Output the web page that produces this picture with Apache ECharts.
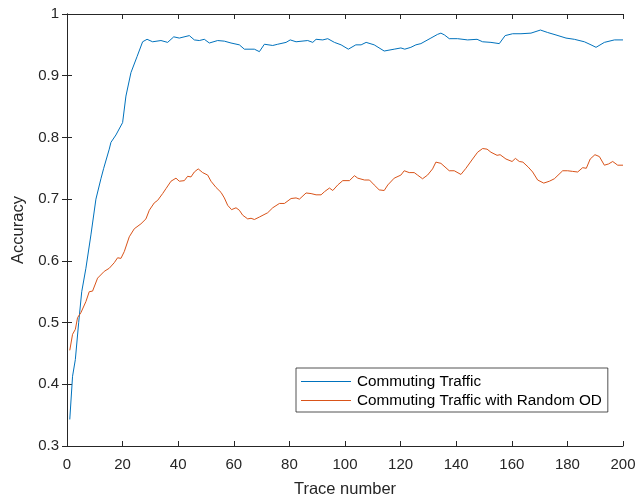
<!DOCTYPE html>
<html>
<head>
<meta charset="utf-8">
<title>Accuracy vs Trace number</title>
<script src="https://cdn.jsdelivr.net/npm/echarts@6/dist/echarts.min.js"></script>
<style>
  html, body { margin: 0; padding: 0; background: #fff; }
  #main { width: 639px; height: 497px; }
</style>
</head>
<body>
<div id="main"></div>
<script>
// values: [trace number, accuracy]
var commuting = [
  [1, 0.343], [2, 0.413], [3, 0.440], [4.2, 0.500], [5.3, 0.550], [6.8, 0.588], [8.6, 0.642],
  [10.4, 0.700], [12.2, 0.733], [13.2, 0.750], [15.2, 0.781], [15.8, 0.792], [17.6, 0.804],
  [20.0, 0.824], [21.2, 0.867], [23.0, 0.905], [25.2, 0.931], [27.2, 0.955], [28.8, 0.959],
  [30.8, 0.955], [33.8, 0.957], [36.2, 0.954], [38.4, 0.963], [40.4, 0.961], [44.0, 0.965],
  [45.8, 0.958], [47.6, 0.957], [49.4, 0.959], [51.2, 0.953], [54.2, 0.957], [56.6, 0.956],
  [59.0, 0.953], [62.0, 0.950], [63.8, 0.943], [67.4, 0.943], [69.2, 0.939], [71.0, 0.951],
  [74.0, 0.949], [75.8, 0.951], [78.8, 0.954], [80.3, 0.958], [82.4, 0.955], [86.6, 0.957],
  [88.4, 0.954], [89.6, 0.959], [92.0, 0.958], [93.8, 0.960], [96.2, 0.954], [98.6, 0.950],
  [101.2, 0.943], [103.9, 0.950], [105.8, 0.950], [107.6, 0.954], [110.5, 0.950], [114.1, 0.940],
  [117.7, 0.943], [120.1, 0.945], [121.5, 0.943], [123.7, 0.946], [125.5, 0.950], [127.3, 0.952],
  [130.9, 0.961], [133.3, 0.967], [134.5, 0.969], [135.8, 0.966], [137.5, 0.960], [140.5, 0.960],
  [144.1, 0.958], [147.5, 0.959], [149.5, 0.955], [152.5, 0.954], [155.5, 0.952], [157.6, 0.965],
  [160.3, 0.968], [163.3, 0.968], [166.9, 0.969], [170.3, 0.974], [172.9, 0.970], [175.9, 0.966],
  [179.5, 0.961], [182.5, 0.959], [186.1, 0.955], [188.5, 0.950], [190.3, 0.946], [193.3, 0.954],
  [196.9, 0.958], [200, 0.958]
];
var randomOD = [
  [1, 0.455], [2, 0.481], [3, 0.489], [3.8, 0.508], [5.0, 0.516], [6.8, 0.534], [8.0, 0.550],
  [9.2, 0.551], [11.0, 0.572], [13.4, 0.583], [15.2, 0.588], [17.0, 0.597], [18.2, 0.605],
  [19.4, 0.604], [20.6, 0.615], [22.4, 0.639], [24.2, 0.652], [26.6, 0.660], [28.4, 0.668],
  [29.6, 0.682], [31.4, 0.694], [32.6, 0.698], [34.4, 0.709], [35.6, 0.717], [37.4, 0.729],
  [39.2, 0.734], [40.4, 0.729], [42.2, 0.730], [43.4, 0.737], [44.6, 0.736], [45.8, 0.744],
  [47.2, 0.749], [48.8, 0.743], [50.6, 0.739], [51.8, 0.729], [53.6, 0.719], [55.4, 0.711],
  [56.6, 0.702], [57.8, 0.690], [59.2, 0.683], [60.8, 0.686], [62.0, 0.682], [63.2, 0.674],
  [65.0, 0.668], [66.2, 0.669], [67.4, 0.667], [69.2, 0.671], [72.2, 0.678], [74.0, 0.686],
  [76.4, 0.693], [78.2, 0.693], [80.6, 0.701], [82.4, 0.702], [83.6, 0.700], [86.0, 0.710],
  [87.8, 0.709], [89.6, 0.707], [91.4, 0.707], [92.6, 0.712], [94.4, 0.718], [95.6, 0.714],
  [97.4, 0.723], [99.2, 0.730], [101.6, 0.730], [103.4, 0.738], [104.6, 0.734], [107.0, 0.731],
  [108.8, 0.731], [110.5, 0.723], [112.3, 0.715], [114.1, 0.714], [115.4, 0.723], [117.7, 0.734],
  [120.1, 0.739], [121.3, 0.746], [123.1, 0.743], [124.9, 0.743], [126.1, 0.739], [127.9, 0.733],
  [129.7, 0.739], [131.5, 0.749], [132.7, 0.760], [134.5, 0.758], [137.5, 0.746], [139.3, 0.746],
  [141.7, 0.740], [143.5, 0.750], [145.9, 0.765], [147.7, 0.776], [149.5, 0.782], [151.1, 0.781],
  [152.5, 0.776], [154.7, 0.771], [155.8, 0.772], [157.9, 0.765], [160.1, 0.761], [161.3, 0.766],
  [162.7, 0.761], [164.0, 0.760], [165.9, 0.752], [167.5, 0.744], [169.3, 0.731], [171.5, 0.726],
  [173.5, 0.729], [175.3, 0.733], [178.3, 0.746], [180.1, 0.746], [181.8, 0.745], [183.7, 0.744],
  [185.5, 0.751], [186.8, 0.750], [188.2, 0.765], [189.9, 0.772], [191.5, 0.769], [193.3, 0.755],
  [194.8, 0.757], [196.3, 0.761], [198.1, 0.755], [200, 0.755]
];
var seriesNames = ['Commuting Traffic', 'Commuting Traffic with Random OD'];
var xTicks = [0, 20, 40, 60, 80, 100, 120, 140, 160, 180, 200];
var yTicks = [0.3, 0.4, 0.5, 0.6, 0.7, 0.8, 0.9, 1];

var axisColor = '#262626';
var fontFam = 'Liberation Sans, Arial, Helvetica, sans-serif';

var chart = echarts.init(document.getElementById('main'));
var option = {
    animation: false,
    backgroundColor: '#fff',
    grid: { left: 67, right: 16, top: 14, bottom: 51, containLabel: false, outerBoundsMode: 'none' },
    legend: {
        data: seriesNames,
        orient: 'vertical',
        left: 296,
        top: 368,
        width: 313,
        icon: 'path://M0,0 L50,0 L50,1 L0,1 Z',
        itemWidth: 50,
        itemHeight: 16,
        itemGap: 4,
        padding: [6, 6, 4, 5],
        backgroundColor: '#fff',
        borderColor: axisColor,
        borderWidth: 0.8,
        borderRadius: 0,
        textStyle: { fontFamily: fontFam, fontSize: 15.3, color: '#000', padding: [0, 0, 0, 1] }
    },
    xAxis: [{
        type: 'value',
        min: 0, max: 200, interval: 20,
        name: 'Trace number',
        nameLocation: 'middle',
        nameGap: 35,
        nameTextStyle: { fontFamily: fontFam, fontSize: 16.5, color: axisColor },
        axisLine: { show: true, lineStyle: { color: axisColor, width: 1 } },
        axisTick: { show: true, inside: true, length: 5, lineStyle: { color: axisColor } },
        axisLabel: { fontFamily: fontFam, fontSize: 15, color: axisColor, margin: 11,
            formatter: function (v) { return xTicks.indexOf(v) >= 0 ? String(v) : ''; } },
        splitLine: { show: false }
    }, {
        type: 'value',
        position: 'top',
        min: 0, max: 200, interval: 20,
        axisLine: { show: true, lineStyle: { color: axisColor, width: 1 } },
        axisTick: { show: true, inside: true, length: 5, lineStyle: { color: axisColor } },
        axisLabel: { show: false },
        splitLine: { show: false }
    }],
    yAxis: [{
        type: 'value',
        min: 0.3, max: 1, interval: 0.1,
        name: 'Accuracy',
        nameLocation: 'middle',
        nameGap: 38,
        nameTextStyle: { fontFamily: fontFam, fontSize: 16.5, color: axisColor },
        axisLine: { show: true, lineStyle: { color: axisColor, width: 1 } },
        axisTick: { show: true, inside: true, length: 5, lineStyle: { color: axisColor } },
        axisLabel: { fontFamily: fontFam, fontSize: 15, color: axisColor, margin: 8,
            formatter: function (v) {
                var r = Math.round(v * 10) / 10;
                var hit = yTicks.some(function (t) { return Math.abs(t - r) < 1e-9; });
                if (!hit) return '';
                return r === 1 ? '1' : r.toFixed(1);
            } },
        splitLine: { show: false }
    }, {
        type: 'value',
        position: 'right',
        min: 0.3, max: 1, interval: 0.1,
        axisLine: { show: true, lineStyle: { color: axisColor, width: 1 } },
        axisTick: { show: true, inside: true, length: 5, lineStyle: { color: axisColor } },
        axisLabel: { show: false },
        splitLine: { show: false }
    }],
    series: [{
        name: seriesNames[0],
        type: 'line',
        data: commuting,
        symbol: 'none',
        color: '#0072BD',
        lineStyle: { width: 1, color: '#0072BD' }
    }, {
        name: seriesNames[1],
        type: 'line',
        data: randomOD,
        symbol: 'none',
        color: '#D95319',
        lineStyle: { width: 1, color: '#D95319' }
    }]
};
chart.setOption(option);
</script>
</body>
</html>
